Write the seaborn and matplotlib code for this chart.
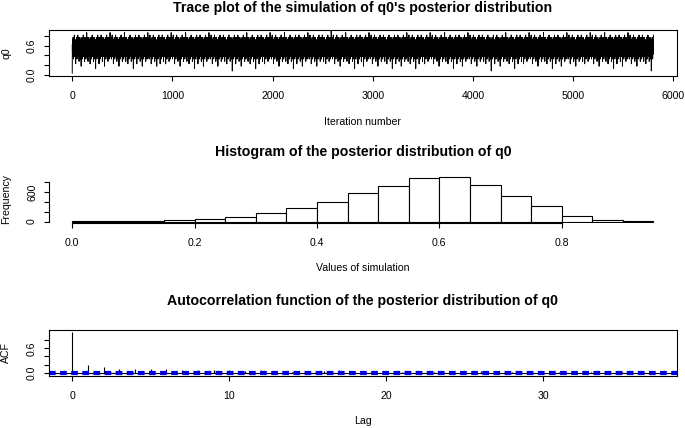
import numpy as np
import pandas as pd
import matplotlib
matplotlib.use("Agg")
import matplotlib.pyplot as plt
import seaborn as sns

# posterior draws of q0 (bins of width 0.05)
bin_edges = [0.00, 0.05, 0.10, 0.15, 0.20, 0.25, 0.30, 0.35, 0.40, 0.45,
             0.50, 0.55, 0.60, 0.65, 0.70, 0.75, 0.80, 0.85, 0.90, 0.95]
bin_counts = [1, 3, 12, 26, 51, 93, 176, 279, 390, 576,
              724, 875, 899, 736, 514, 306, 114, 24, 1]

# autocorrelation of the chain, lags 0..37
acf_lags = list(range(38))
acf_values = [1.00, 0.19, 0.13, 0.10, 0.09, 0.09, 0.08, 0.07, 0.06, 0.06,
              0.06, 0.04, 0.06, 0.04, 0.03, 0.04, 0.04, 0.06, 0.03, 0.02,
              0.02, 0.01, 0.03, 0.02, 0.03, 0.02, 0.04, 0.01, 0.03, 0.04,
              0.02, 0.01, 0.02, 0.01, 0.04, 0.03, 0.02, 0.01]

trace_xticks = [0, 1000, 2000, 3000, 4000, 5000, 6000]
trace_yticks = [0.0, 0.2, 0.4, 0.6, 0.8]
trace_ylabels = ["0.0", "", "", "0.6", ""]
hist_xticks = [0.0, 0.2, 0.4, 0.6, 0.8]
hist_yticks = [0, 200, 400, 600, 800]
hist_ylabels = ["0", "", "", "600", ""]
acf_xticks = [0, 10, 20, 30]
acf_yticks = [0.0, 0.2, 0.4, 0.6, 0.8]
acf_ylabels = ["0.0", "", "", "0.6", ""]

# rebuild the chain from the histogram draws (bin mid points)
centres = [(a + b) / 2 for a, b in zip(bin_edges[:-1], bin_edges[1:])]
draws = np.repeat(centres, bin_counts)
n_iter = len(draws)
# spread the sorted draws over the iterations (golden ratio ordering)
rank = np.argsort(np.argsort((np.arange(n_iter) * 0.6180339887) % 1.0))
df_trace = pd.DataFrame({"iteration": np.arange(1, n_iter + 1), "q0": draws[rank]})
df_hist = pd.DataFrame({"mid": centres, "count": bin_counts})
ci = 1.96 / np.sqrt(n_iter)

sns.set_style("ticks")
plt.rcParams["font.family"] = ["Liberation Sans", "DejaVu Sans"]
plt.rcParams["text.color"] = "black"
plt.rcParams["axes.labelcolor"] = "black"
plt.rcParams["axes.linewidth"] = 0.8
plt.rcParams["xtick.major.width"] = 0.8
plt.rcParams["ytick.major.width"] = 0.8
plt.rcParams["xtick.major.size"] = 3.6
plt.rcParams["ytick.major.size"] = 3.6
plt.rcParams["xtick.color"] = "black"
plt.rcParams["ytick.color"] = "black"
plt.rcParams["axes.edgecolor"] = "black"

W, H = 685, 428
fig = plt.figure(figsize=(W / 100, H / 100), dpi=100)

def add_ax(top, bottom):
    return fig.add_axes([49 / W, 1 - bottom / H, 627.7 / W, (bottom - top) / H])

ax1 = add_ax(30, 76)
ax2 = add_ax(175.4, 223.3)
ax3 = add_ax(330, 376)

tick_fs = 7.6
title_fs = 10.2

# trace plot
sns.lineplot(data=df_trace, x="iteration", y="q0", color="black", linewidth=0.7,
             estimator=None, ax=ax1)
ax1.set_xlim(-231, 6032)
ax1.set_ylim(-0.03, 0.93)
ax1.set_xticks(trace_xticks)
ax1.set_yticks(trace_yticks)
ax1.set_yticklabels(trace_ylabels, rotation=90, va="center")
ax1.set_title("Trace plot of the simulation of q0's posterior distribution",
              fontsize=title_fs, fontweight="bold", pad=13)
ax1.set_xlabel("Iteration number", fontsize=tick_fs)
ax1.set_ylabel("q0", fontsize=tick_fs)

# histogram
sns.histplot(data=df_hist, x="mid", weights="count", bins=bin_edges,
             color="white", edgecolor="black", linewidth=0.8, alpha=1, ax=ax2)
ax2.set_xlim(-0.038, 0.988)
ax2.set_ylim(-36, 936)
ax2.set_xticks(hist_xticks)
ax2.set_xticklabels(["0.0", "0.2", "0.4", "0.6", "0.8"])
ax2.set_yticks(hist_yticks)
ax2.set_yticklabels(hist_ylabels, rotation=90, va="center")
ax2.spines["top"].set_visible(False)
ax2.spines["right"].set_visible(False)
ax2.spines["left"].set_bounds(0, 800)
ax2.spines["bottom"].set_bounds(0, 0.8)
ax2.set_title("Histogram of the posterior distribution of q0",
              fontsize=title_fs, fontweight="bold", pad=14)
ax2.set_xlabel("Values of simulation", fontsize=tick_fs)
ax2.set_ylabel("Frequency", fontsize=tick_fs)

# autocorrelation function
ax3.vlines(acf_lags, 0, acf_values, color="black", linewidth=0.8)
ax3.axhline(0, color="black", linewidth=0.8)
ax3.axhline(ci, color="#0000dd", linewidth=1.6, linestyle=(0, (3, 2)))
ax3.axhline(-ci, color="#0000dd", linewidth=1.6, linestyle=(0, (3, 2)))
ax3.set_xlim(-1.48, 38.48)
ax3.set_ylim(-0.08, 1.05)
ax3.set_xticks(acf_xticks)
ax3.set_yticks(acf_yticks)
ax3.set_yticklabels(acf_ylabels, rotation=90, va="center")
ax3.set_title("Autocorrelation function of the posterior distribution of q0",
              fontsize=title_fs, fontweight="bold", pad=18)
ax3.set_xlabel("Lag", fontsize=tick_fs)
ax3.set_ylabel("ACF", fontsize=tick_fs)

for ax, frac in [(ax1, -0.891), (ax2, -0.83), (ax3, -0.87)]:
    ax.tick_params(axis="x", labelsize=tick_fs, pad=7)
    ax.tick_params(axis="y", labelsize=tick_fs, pad=5)
    ax.xaxis.set_label_coords(0.5, frac)
    ax.yaxis.set_label_coords(-0.060, 0.5)

fig.savefig("out.png", dpi=100)
